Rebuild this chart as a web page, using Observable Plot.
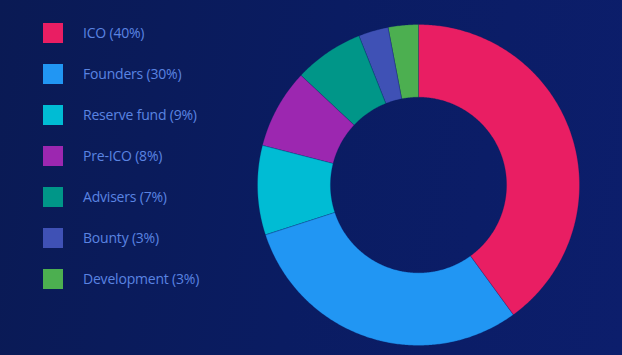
<!DOCTYPE html>
<html>
<head>
<meta charset="utf-8">
<script src="https://cdn.jsdelivr.net/npm/d3@7"></script>
<script src="https://cdn.jsdelivr.net/npm/@observablehq/plot@0.6"></script>
<style>
  html, body { margin: 0; padding: 0; }
  body { width: 622px; height: 355px; overflow: hidden;
    background: linear-gradient(100deg, #0a1a54 0%, #0a1c62 50%, #0c1e6c 100%);
    font-family: "Open Sans", "Noto Sans", sans-serif; }
  #wrap { position: relative; width: 622px; height: 355px; }
  #legend { position: absolute; left: 43px; top: 23px; }
  .item { display: flex; align-items: center; height: 20px; margin-bottom: 21px; }
  .sw { width: 20px; height: 20px; margin-right: 20px; }
  .lab { color: #5a84e2; font-size: 14px; letter-spacing: -0.2px; white-space: nowrap; margin-top: -2px; }
  #chart { position: absolute; left: 0; top: 0; }
</style>
</head>
<body>
<div id="wrap">
  <div id="chart"></div>
  <div id="legend"></div>
</div>
<script>
const categories = ["ICO", "Founders", "Reserve fund", "Pre-ICO", "Advisers", "Bounty", "Development"];
const values = [40, 30, 9, 8, 7, 3, 3];
const colors = ["#e91e63", "#2196f3", "#00bcd4", "#9c27b0", "#009688", "#3f51b5", "#4caf50"];
const labels = categories.map((c, i) => `${c} (${values[i]}%)`);

// legend
const legend = document.getElementById("legend");
categories.forEach((c, i) => {
  const it = document.createElement("div");
  it.className = "item";
  it.innerHTML = `<div class="sw" style="background:${colors[i]}"></div><div class="lab">${labels[i]}</div>`;
  legend.appendChild(it);
});

// build donut slice polygons from the data
const total = d3.sum(values);
const inner = 0.547;
const pts = [];
let acc = 0;
categories.forEach((c, i) => {
  const a0 = acc / total * 2 * Math.PI;
  acc += values[i];
  const a1 = acc / total * 2 * Math.PI;
  const n = Math.max(8, Math.ceil((a1 - a0) / 0.01));
  let k = 0;
  for (let j = 0; j <= n; j++) {
    const a = a0 + (a1 - a0) * j / n;
    pts.push({cat: c, k: k++, x: Math.sin(a), y: Math.cos(a)});
  }
  for (let j = n; j >= 0; j--) {
    const a = a0 + (a1 - a0) * j / n;
    pts.push({cat: c, k: k++, x: inner * Math.sin(a), y: inner * Math.cos(a)});
  }
});

const chart = Plot.plot({
  width: 622,
  height: 355,
  marginLeft: 257,
  marginRight: 43,
  marginTop: 24,
  marginBottom: 10,
  x: {domain: [-1, 1], axis: null},
  y: {domain: [-1, 1], axis: null},
  color: {domain: categories, range: colors},
  style: {background: "transparent", overflow: "visible"},
  marks: [
    Plot.line(pts, {x: "x", y: "y", z: "cat", fill: "cat", stroke: "#0a1c62", strokeWidth: 0.25, curve: "linear-closed"})
  ]
});
document.getElementById("chart").appendChild(chart);
</script>
</body>
</html>
